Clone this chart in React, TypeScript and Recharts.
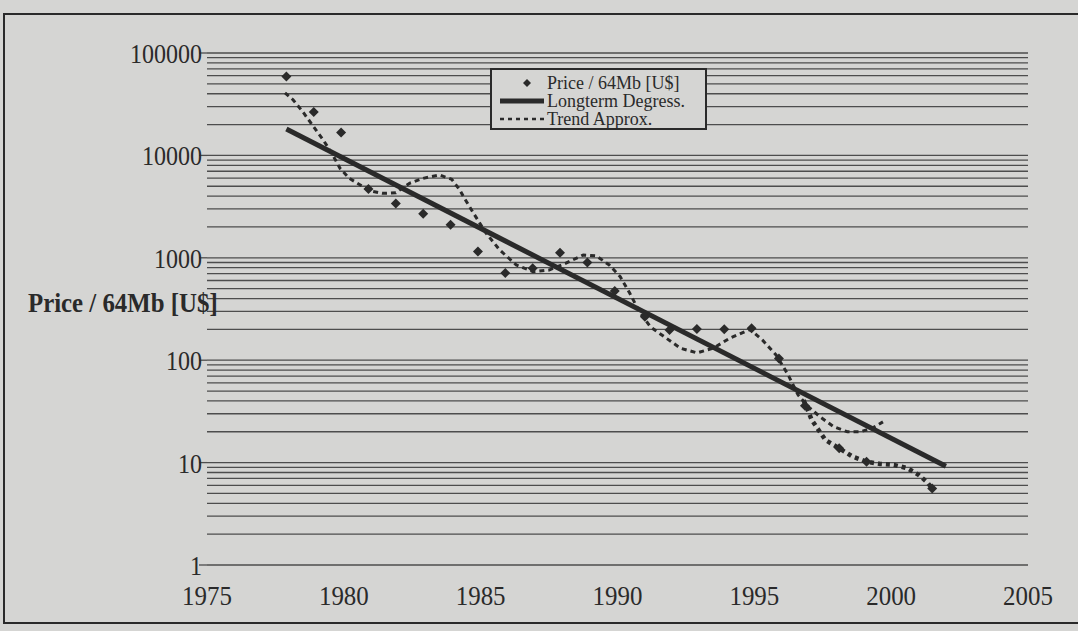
import React from 'react';
import { ComposedChart, Line, Scatter, XAxis, YAxis, CartesianGrid, Legend, Label } from 'recharts';

// ---- data ----
const priceYears = [1977.9, 1978.9, 1979.9, 1980.9, 1981.9, 1982.9, 1983.9, 1984.9, 1985.9, 1986.9, 1987.9, 1988.9, 1989.9, 1991.0, 1991.9, 1992.9, 1993.9, 1994.9, 1995.9, 1996.85, 1998.1, 1999.1, 2001.5];
const priceValues = [58800, 26500, 16700, 4700, 3400, 2700, 2100, 1150, 710, 790, 1120, 900, 475, 266, 197, 202, 200, 205, 104, 36, 13.8, 10.2, 5.6];

const longtermYears = [1977.9, 2002.0];
const longtermValues = [18100, 9.2];

const trendYears = [1977.85, 1978.15, 1978.5, 1978.9, 1979.25, 1979.56, 1979.86, 1980.2, 1980.6, 1980.95, 1981.4, 1981.9, 1982.4, 1982.9, 1983.5, 1983.94, 1984.24, 1984.37, 1984.74, 1985.2, 1985.7, 1986.3, 1986.92, 1987.5, 1988.1, 1988.75, 1989.23, 1989.7, 1990.1, 1990.45, 1990.8, 1991.2, 1991.7, 1992.3, 1992.9, 1993.5, 1994.1, 1994.84, 1995.3, 1995.8, 1996.24, 1996.6, 1996.97, 1997.4, 1997.9, 1998.4, 1998.86, 1999.3, 1999.7];
const trendValues = [40900, 34800, 26700, 19000, 14100, 10500, 7480, 5970, 5140, 4520, 4260, 4320, 5340, 5970, 6440, 5850, 4590, 3960, 2720, 1740, 1190, 851, 731, 759, 883, 1065, 1042, 851, 653, 450, 298, 212, 170, 131, 118, 131, 164, 200, 157, 112, 71.6, 45.7, 35.2, 28, 22.4, 20, 20, 21.6, 25];

const dottedYears = [1996.8, 1997.1, 1997.6, 1998.1, 1998.6, 1999.1, 1999.6, 2000.1, 2000.6, 2001.0, 2001.3, 2001.5];
const dottedValues = [40.8, 26, 16.6, 13.8, 11.4, 10.2, 9.7, 9.5, 8.8, 7.6, 6.5, 5.6];

const xTicks = [1975, 1980, 1985, 1990, 1995, 2000, 2005];
const yGridValues = [
  1, 2, 3, 4, 5, 6, 7, 8, 9,
  10, 20, 30, 40, 50, 60, 70, 80, 90,
  100, 200, 300, 400, 500, 600, 700, 800, 900,
  1000, 2000, 3000, 4000, 5000, 6000, 7000, 8000, 9000,
  10000, 20000, 30000, 40000, 50000, 60000, 70000, 80000, 90000,
  100000,
];
const yLabelValues = [1, 10, 100, 1000, 10000, 100000];
const yLabelTexts = ['1', '10', '100', '1000', '10000', '100000'];

const seriesNames = ['Price / 64Mb [U$]', 'Longterm Degress.', 'Trend Approx.'];
const yAxisTitle = 'Price / 64Mb [U$]';

const toRows = (xs: number[], vs: number[]) => xs.map((x, i) => ({ year: x, value: vs[i] }));
const priceData = toRows(priceYears, priceValues);
const longtermData = toRows(longtermYears, longtermValues);
const trendData = toRows(trendYears, trendValues);
const dottedData = toRows(dottedYears, dottedValues);

const BG = '#d5d5d3';
const INK = '#2a2a2a';
const GRID = '#4d4d4d';
const FONT = "'Liberation Serif', 'Times New Roman', serif";

const YTick = (props: any) => {
  const { x, y, payload } = props;
  const idx = yLabelValues.indexOf(payload.value);
  if (idx < 0) return null;
  return (
    <g>
      <line x1={x - 8} y1={y} x2={x} y2={y} stroke={GRID} strokeWidth={1.3} />
      <text transform={`translate(${x - 5},${y + 10}) scale(0.89,1)`} textAnchor="end" fontFamily={FONT} fontSize={27} fill={INK}>
        {yLabelTexts[idx]}
      </text>
    </g>
  );
};

const XTick = (props: any) => {
  const { x, y, payload } = props;
  return (
    <text transform={`translate(${x},${y + 40}) scale(0.89,1)`} textAnchor="middle" fontFamily={FONT} fontSize={28} fill={INK}>
      {payload.value}
    </text>
  );
};

const Diamond = (props: any) => {
  const { cx, cy } = props;
  if (cx == null || cy == null) return null;
  const r = 5;
  return <polygon points={`${cx},${cy - r} ${cx + r},${cy} ${cx},${cy + r} ${cx - r},${cy}`} fill={INK} />;
};

const renderLegend = (props: any) => {
  const payload = (props.payload || []).filter((p: any) => seriesNames.includes(p.value));
  payload.sort((a: any, b: any) => seriesNames.indexOf(a.value) - seriesNames.indexOf(b.value));
  const rowsY = [19, 37, 55];
  return (
    <div style={{ width: 217, height: 62, boxSizing: 'border-box', border: `2px solid ${INK}`, background: BG }}>
      <svg width={213} height={58} style={{ display: 'block' }}>
        {payload.map((p: any, i: number) => {
          const cy = rowsY[i] - 6;
          let icon: any = null;
          if (i === 0) {
            icon = <polygon points={`35,${cy - 4} 39,${cy} 35,${cy + 4} 31,${cy}`} fill={INK} />;
          } else if (i === 1) {
            icon = <line x1={8} y1={cy} x2={52} y2={cy} stroke={INK} strokeWidth={5} />;
          } else {
            icon = <line x1={8} y1={cy} x2={52} y2={cy} stroke={INK} strokeWidth={2.5} strokeDasharray="4 4" />;
          }
          return (
            <g key={p.value}>
              {icon}
              <text x={55} y={rowsY[i]} fontFamily={FONT} fontSize={18} fill={INK}>{p.value}</text>
            </g>
          );
        })}
      </svg>
    </div>
  );
};

const AxisTitle = (props: any) => {
  const { viewBox } = props;
  const y = viewBox.y + viewBox.height / 2;
  return (
    <text transform={`translate(${viewBox.x + 28},${y + 3}) scale(0.92,1)`} fontFamily={FONT} fontSize={27} fontWeight="bold" fill={INK}>
      {yAxisTitle}
    </text>
  );
};

export default function App() {
  return (
    <div style={{ position: 'absolute', left: 0, top: 0, width: 1078, height: 631, background: BG, overflow: 'hidden' }}>
      <div style={{ position: 'absolute', left: 3, top: 13, width: 1075, height: 607, borderLeft: `2px solid ${INK}`, borderTop: `2px solid ${INK}`, borderBottom: `2px solid ${INK}` }} />
      <div style={{ position: 'absolute', left: 0, top: 0 }}>
        <ComposedChart width={1078} height={631} margin={{ top: 53, right: 50, bottom: 26, left: 0 }}>
          <CartesianGrid vertical={false} horizontal stroke={GRID} strokeWidth={1.3} />
          <XAxis
            type="number"
            dataKey="year"
            domain={[1975, 2005]}
            ticks={xTicks}
            interval={0}
            allowDataOverflow
            axisLine={false}
            tickLine={false}
            tickSize={0}
            tickMargin={0}
            height={40}
            tick={<XTick />}
          />
          <YAxis
            type="number"
            scale="log"
            domain={[1, 100000]}
            ticks={yGridValues}
            interval={0}
            allowDataOverflow
            axisLine={false}
            tickLine={false}
            tickSize={0}
            tickMargin={0}
            width={207}
            tick={<YTick />}
          >
            <Label content={<AxisTitle />} />
          </YAxis>
          <Legend
            layout="vertical"
            align="center"
            verticalAlign="middle"
            content={renderLegend}
            wrapperStyle={{ position: 'absolute', left: 490, top: 68, width: 217, height: 62 }}
          />
          <Scatter name={seriesNames[0]} data={priceData} dataKey="value" shape={<Diamond />} fill={INK} isAnimationActive={false} />
          <Line name={seriesNames[1]} data={longtermData} dataKey="value" type="linear" stroke={INK} strokeWidth={5} dot={false} activeDot={false} isAnimationActive={false} />
          <Line name={seriesNames[2]} data={trendData} dataKey="value" type="linear" stroke={INK} strokeWidth={3} strokeDasharray="5 4" dot={false} activeDot={false} isAnimationActive={false} />
          <Line name="dotted" legendType="none" data={dottedData} dataKey="value" type="linear" stroke={INK} strokeWidth={4.5} strokeDasharray="4 4" dot={false} activeDot={false} isAnimationActive={false} />
        </ComposedChart>
      </div>
    </div>
  );
}
